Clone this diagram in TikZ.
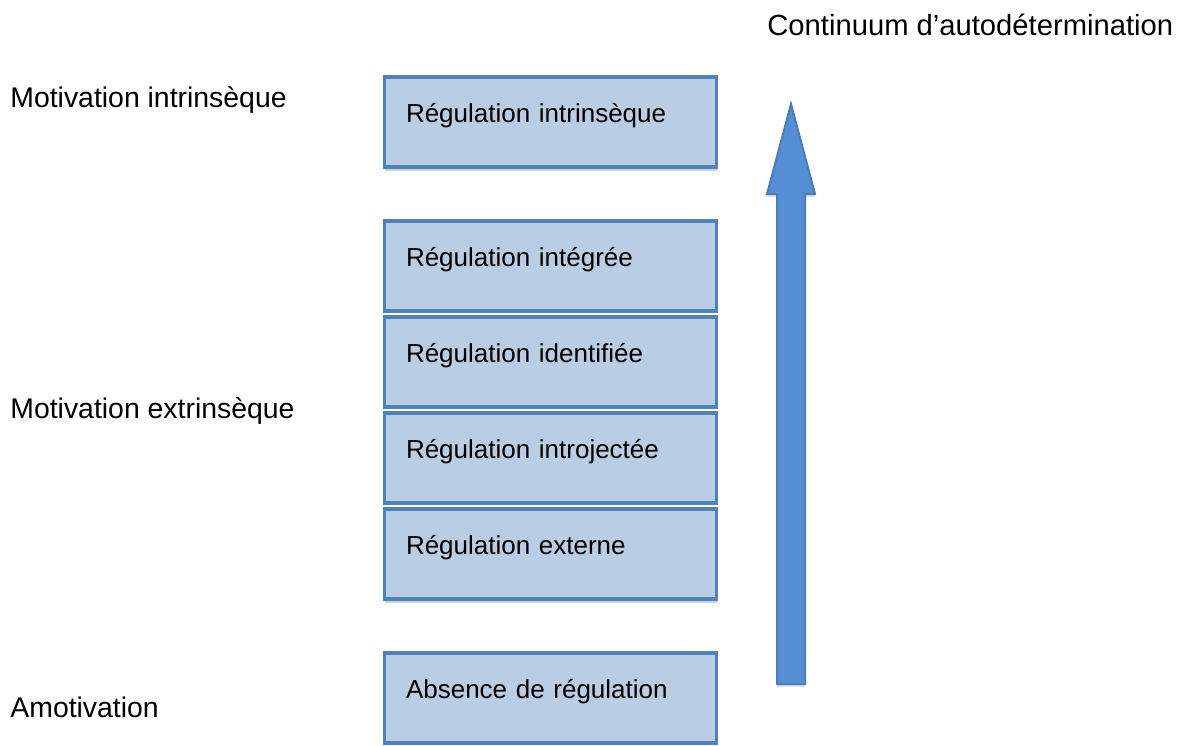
\documentclass[tikz,border=0pt]{standalone}
\usepackage{fontspec}
\setmainfont{Liberation Sans}
\usepackage{tikz}
\usetikzlibrary{positioning,shadows}

\definecolor{regfill}{HTML}{B9CDE5}
\definecolor{regline}{HTML}{4F81BD}
\definecolor{arrfill}{HTML}{558ED5}
\definecolor{arrline}{HTML}{4A7EBB}

\tikzset{
	regbox/.style={rectangle,draw=regline,fill=regfill,line width=1.75pt,outer sep=0pt,
		inner xsep=10.75pt,inner ysep=0pt,text width=144.5pt,align=left,
		text height=22.5pt,text depth=22.5pt,font=\fontsize{13}{15}\selectfont},
	shadowed/.style={drop shadow={shadow xshift=0pt,shadow yshift=-2pt,fill=black!18,opacity=1}},
	level/.style={anchor=base west,inner sep=0pt,font=\fontsize{14.2}{17}\selectfont}
}

\begin{document}
\begin{tikzpicture}[x=0.5pt,y=-0.5pt]
	\useasboundingbox (0,0) rectangle (1182,745);

	% pile des regulations
	\node[regbox,anchor=north west] (integ) at (384.5,221) {R\'egulation int\'egr\'ee};
	\node[regbox,shadowed,above=27pt of integ] (intrin) {R\'egulation intrins\`eque};
	\node[regbox,below=3pt of integ] (ident) {R\'egulation identifi\'ee};
	\node[regbox,below=3pt of ident] (introj) {R\'egulation introject\'ee};
	\node[regbox,shadowed,below=3pt of introj] (extern) {R\'egulation externe};
	\node[regbox,below=27pt of extern] (absence) {Absence de r\'egulation};

	% types de motivation
	\node[level] (motint) at (10,107) {Motivation intrins\`eque};
	\node[level] (motext) at (10,418) {Motivation extrins\`eque};
	\node[level] (amot) at (10,717) {Amotivation};
	\node[level,font=\fontsize{14.6}{17}\selectfont] (contin) at (767,35) {Continuum d’autod\'etermination};

	% fleche du continuum
	\filldraw[fill=arrfill,draw=arrline,line width=1pt,
		drop shadow={shadow xshift=0pt,shadow yshift=-1.5pt,fill=black!12,opacity=1}]
		(777,684) -- (777,194) -- (767,194) -- (791,104) -- (815,194) -- (805,194) -- (805,684) -- cycle;
\end{tikzpicture}
\end{document}
